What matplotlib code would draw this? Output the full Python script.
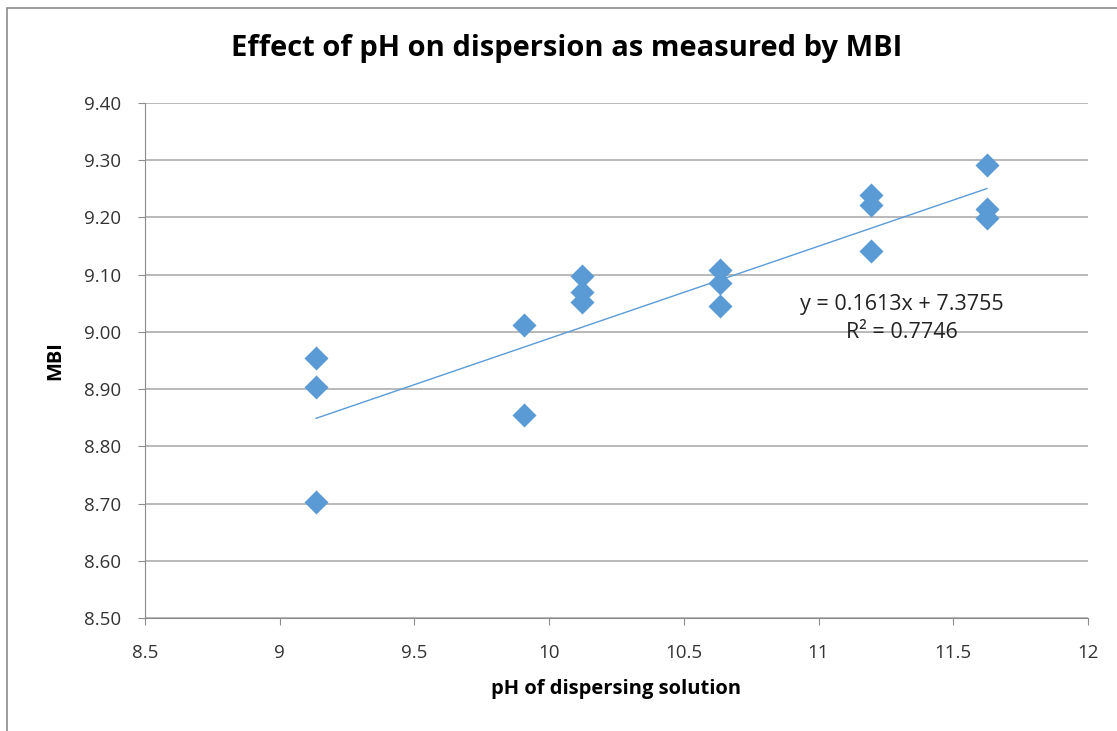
import matplotlib
matplotlib.use("Agg")
import matplotlib.pyplot as plt
from matplotlib.patches import Rectangle
import numpy as np

# data
ph = [9.135, 9.135, 9.135, 9.905, 9.905,
      10.122, 10.122, 10.122, 10.634, 10.634, 10.634,
      11.195, 11.195, 11.195, 11.625, 11.625, 11.625]
mbi = [8.955, 8.903, 8.703, 9.012, 8.855,
       9.098, 9.070, 9.053, 9.108, 9.086, 9.046,
       9.240, 9.222, 9.142, 9.292, 9.215, 9.199]
slope = 0.1613
intercept = 7.3755
r2 = 0.7746

x_ticks = [8.5, 9, 9.5, 10, 10.5, 11, 11.5, 12]
y_ticks = [8.5, 8.6, 8.7, 8.8, 8.9, 9.0, 9.1, 9.2, 9.3, 9.4]

plt.rcParams['font.family'] = ['Open Sans', 'DejaVu Sans']

fig = plt.figure(figsize=(11.17, 7.31), dpi=100)
ax = fig.add_axes([0.1298, 0.1546, 0.974 - 0.1298, 0.859 - 0.1546])

# outer chart border (only left and top edges fall inside the picture)
fig.patches.append(Rectangle((7 / 1117, -0.1), 1.2, 1 - 8 / 731 + 0.1, transform=fig.transFigure,
                             fill=False, edgecolor='#8c8c8c', linewidth=1.2))

ax.scatter(ph, mbi, marker='D', s=150, color='#5b9bd5', zorder=3, linewidths=0)

xs = np.array([min(ph), max(ph)])
ax.plot(xs, slope * xs + intercept, color='#5b9bd5', linewidth=1, zorder=2)

ax.text(0.803, 0.581, f"y = {slope}x + {intercept}\nR\u00b2 = {r2}", transform=ax.transAxes,
        ha='center', va='center', fontsize=15.5, linespacing=1.45, color='#222222')

ax.set_xlim(8.5, 12)
ax.set_ylim(8.5, 9.4)
ax.set_xticks(x_ticks)
ax.set_xticklabels([f"{v:g}" for v in x_ticks])
ax.set_yticks(y_ticks)
ax.set_yticklabels([f"{v:.2f}" for v in y_ticks])
ax.tick_params(axis='both', labelsize=13.5, colors='#8c8c8c', labelcolor='#333333',
               length=5, direction='out')
ax.tick_params(axis='y', pad=12)
ax.tick_params(axis='x', pad=14)
ax.grid(axis='y', color='#a6a6a6', linewidth=1.1)
ax.set_axisbelow(True)
for side in ['top', 'right']:
    ax.spines[side].set_visible(False)
ax.spines['left'].set_color('#8c8c8c')
ax.spines['bottom'].set_color('#8c8c8c')

ax.set_xlabel("pH of dispersing solution", fontsize=14.5, fontweight='bold', labelpad=12)
ax.set_ylabel("MBI", fontsize=14.5, fontweight='bold', labelpad=14)
fig.text(0.507, 0.933, "Effect of pH on dispersion as measured by MBI", ha='center', va='center',
         fontsize=21, fontweight='bold')

fig.savefig("out.png", dpi=100)
